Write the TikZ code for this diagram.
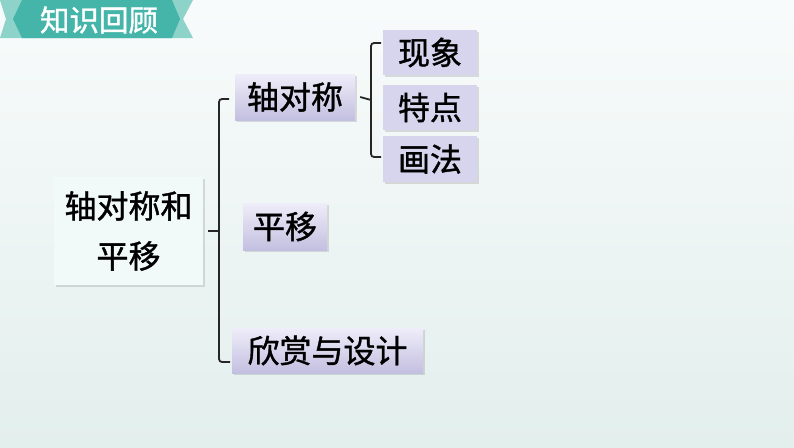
\documentclass[tikz,border=0pt]{standalone}
\usepackage{fontspec}
\newfontfamily\cjk{Noto Sans CJK SC}[FakeBold=1.2]
\usetikzlibrary{shadows}
\definecolor{bgtop}{HTML}{F8FBFB}
\definecolor{bgbot}{HTML}{E3EFED}
\definecolor{tealdark}{HTML}{45B5AA}
\definecolor{teallight}{HTML}{8ED3CA}
\definecolor{lavtop}{HTML}{EFEDF9}
\definecolor{lavbot}{HTML}{C3BFE0}
\definecolor{lavflat}{HTML}{D7D5EE}
\definecolor{rootfill}{HTML}{F1F9F9}
\tikzset{
  base/.style={inner sep=0pt, font=\cjk\fontsize{32}{50}\selectfont, text=black,
    drop shadow={opacity=0.25, shadow xshift=1.5pt, shadow yshift=-1.5pt}},
  lavbox/.style={base, top color=lavtop, bottom color=lavbot},
  flatbox/.style={base, fill=lavflat},
  rootbox/.style={base, fill=rootfill, align=center},
  br/.style={line width=1.8pt, draw=black!85, rounded corners=3pt},
}
\begin{document}
\begin{tikzpicture}[x=1pt,y=-1pt]
\shade[top color=bgtop, bottom color=bgbot] (0,0) rectangle (794,447);
\useasboundingbox (0,0) rectangle (794,447);
% banner
\fill[teallight] (0,0) -- (193,0) -- (183,19) -- (193,38) -- (0,38) -- (6,19) -- cycle;
\fill[tealdark] (22,0) -- (172,0) -- (180,19) -- (172,38) -- (22,38) -- (13,19) -- cycle;
\node[inner sep=0pt, text=white, font=\cjk\fontsize{29.5}{30}\selectfont] (title) at (99,20) {知识回顾};
% nodes
\node[rootbox, minimum width=149pt, minimum height=108pt] (root) at (128.5,231) {轴对称和\\平移};
\node[lavbox, minimum width=120pt, minimum height=46pt] (a) at (295,97) {轴对称};
\node[lavbox, minimum width=84pt, minimum height=47pt] (b) at (285,226.5) {平移};
\node[lavbox, minimum width=191pt, minimum height=45pt] (c) at (327.5,350.5) {欣赏与设计};
\node[flatbox, minimum width=94pt, minimum height=45pt] (a1) at (430,52.5) {现象};
\node[flatbox, minimum width=94pt, minimum height=45pt] (a2) at (430,107.5) {特点};
\node[flatbox, minimum width=94pt, minimum height=46pt] (a3) at (430,159) {画法};
% bracket 1
\coordinate (m1) at (219,231);
\coordinate (t1) at (229,99);
\coordinate (b1) at (230,362);
\draw[br] ([xshift=5pt]root.east) -- (m1);
\draw[br] (t1) -| (m1) |- (b1);
% bracket 2
\coordinate (m2) at (371,100);
\coordinate (t2) at (381,43);
\coordinate (b2) at (381,157);
\draw[br] ([xshift=5pt]a.east) -- (m2);
\draw[br] (t2) -| (m2) |- (b2);
\end{tikzpicture}
\end{document}
